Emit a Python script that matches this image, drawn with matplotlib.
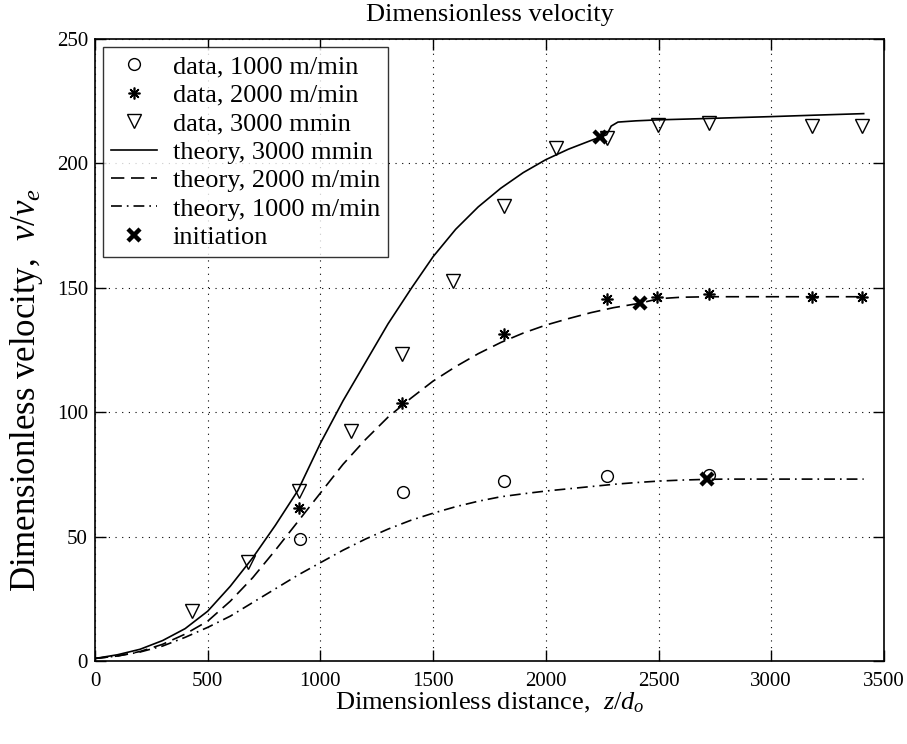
import numpy as np
import matplotlib
matplotlib.use('Agg')
import matplotlib.pyplot as plt

plt.rcParams['font.family'] = ['Liberation Serif', 'DejaVu Serif']
plt.rcParams['mathtext.fontset'] = 'custom'
plt.rcParams['mathtext.rm'] = 'Liberation Serif'
plt.rcParams['mathtext.it'] = 'Liberation Serif:italic'

# measured data
x_1000 = [910, 1365, 1816, 2270, 2725]
v_1000 = [49.0, 68.0, 72.5, 74.3, 74.8]

x_2000 = [906, 1363, 1816, 2270, 2495, 2725, 3180, 3404]
v_2000 = [61.6, 103.8, 131.3, 145.5, 146.4, 147.5, 146.4, 146.4]

x_3000 = [432, 680, 906, 1134, 1361, 1590, 1816, 2044, 2270, 2497, 2725, 3180, 3404]
v_3000 = [20.1, 39.7, 68.4, 92.4, 123.4, 152.6, 182.8, 206.1, 210.3, 215.4, 216.3, 215.0, 215.0]

# theory curves
xt_3000 = [0, 100, 200, 300, 400, 500, 600, 700, 800, 900, 1000, 1100, 1200, 1300,
           1405, 1500, 1600, 1700, 1800, 1900, 2000, 2100, 2200, 2270, 2290, 2320,
           2400, 2500, 2700, 3000, 3200, 3410]
vt_3000 = [1.0, 2.5, 4.7, 8.2, 13.0, 20.0, 30.0, 41.5, 54.5, 68.5, 87.5, 104.5, 120.0, 135.5,
           150.0, 162.5, 173.5, 182.5, 190.0, 196.3, 201.5, 205.7, 209.2, 211.5, 215.0, 216.6,
           217.1, 217.5, 218.0, 218.8, 219.4, 220.0]

xt_2000 = [0, 100, 200, 300, 400, 500, 600, 700, 800, 900, 1000, 1100, 1200, 1300,
           1400, 1500, 1600, 1700, 1800, 1900, 2000, 2100, 2200, 2300, 2418, 2500,
           2600, 2730, 3000, 3200, 3410]
vt_2000 = [1.0, 2.0, 3.8, 6.7, 10.8, 16.0, 24.0, 33.5, 44.5, 56.0, 67.5, 79.0, 89.0, 98.0,
           105.5, 112.5, 118.3, 123.5, 128.0, 131.8, 135.0, 137.6, 140.0, 142.0, 143.8, 145.6,
           146.2, 146.4, 146.4, 146.4, 146.4]

xt_1000 = [0, 100, 200, 300, 400, 500, 600, 700, 800, 900, 1000, 1100, 1200, 1300,
           1400, 1500, 1600, 1700, 1800, 1900, 2000, 2100, 2200, 2300, 2400, 2500,
           2600, 2714, 2800, 3000, 3200, 3410]
vt_1000 = [1.0, 2.0, 3.6, 6.0, 9.5, 13.5, 18.0, 23.5, 29.0, 34.5, 39.5, 44.5, 49.0, 53.0,
           56.5, 59.4, 62.0, 64.2, 66.0, 67.2, 68.3, 69.2, 70.1, 71.0, 71.7, 72.3,
           72.7, 73.0, 73.1, 73.1, 73.1, 73.1]

x_init = [2240, 2418, 2714]
v_init = [210.7, 143.8, 73.0]

fig = plt.figure(figsize=(9.07, 7.44), dpi=100)
ax = fig.add_axes([0.1047, 0.1116, 0.8699, 0.836])

ax.plot(x_1000, v_1000, 'o', mfc='none', mec='k', ms=8.5, mew=1.0, label='data, 1000 m/min')
ax.plot(x_2000, v_2000, ls='none', marker=(8, 2, 0), color='k', ms=8.5, mew=1.2,
        label='data, 2000 m/min')
ax.plot(x_3000, v_3000, 'v', mfc='none', mec='k', ms=9.5, mew=1.0, label='data, 3000 mmin')
ax.plot(xt_3000, vt_3000, '-', color='k', lw=1.2, label='theory, 3000 mmin')
ax.plot(xt_2000, vt_2000, '--', color='k', lw=1.2, dashes=(8, 4), label='theory, 2000 m/min')
ax.plot(xt_1000, vt_1000, '-.', color='k', lw=1.2, dashes=(6.5, 3, 1, 3),
        label='theory, 1000 m/min')
ax.plot(x_init, v_init, 'x', color='k', ms=8, mew=3.2, label='initiation')

ax.set_xlim(0, 3500)
ax.set_ylim(0, 250)
ax.set_xticks(np.arange(0, 3501, 500))
ax.set_yticks(np.arange(0, 251, 50))
ax.tick_params(direction='in', top=True, right=True, length=8, width=1.0,
               labelsize=15)
ax.tick_params(axis='x', pad=8)
ax.tick_params(axis='y', pad=5)
for s in ax.spines.values():
    s.set_linewidth(1.2)
ax.grid(True, color='k', ls=(0, (1, 5)), lw=0.8)

ax.set_title('Dimensionless velocity', fontsize=19, pad=13)
ax.set_xlabel('Dimensionless distance,  $z/d_o$', fontsize=19, labelpad=0)
ax.set_ylabel('Dimensionless velocity,  $v/v_e$', fontsize=25)
ax.yaxis.set_label_coords(-0.063, 0.435)

leg = ax.legend(loc='upper left', fontsize=19, frameon=True, fancybox=False,
                edgecolor='k', borderaxespad=0.3, handlelength=1.75,
                labelspacing=0.19, borderpad=0.3, handletextpad=0.6)
leg.get_frame().set_linewidth(1.0)

fig.savefig('out.png', dpi=100)
